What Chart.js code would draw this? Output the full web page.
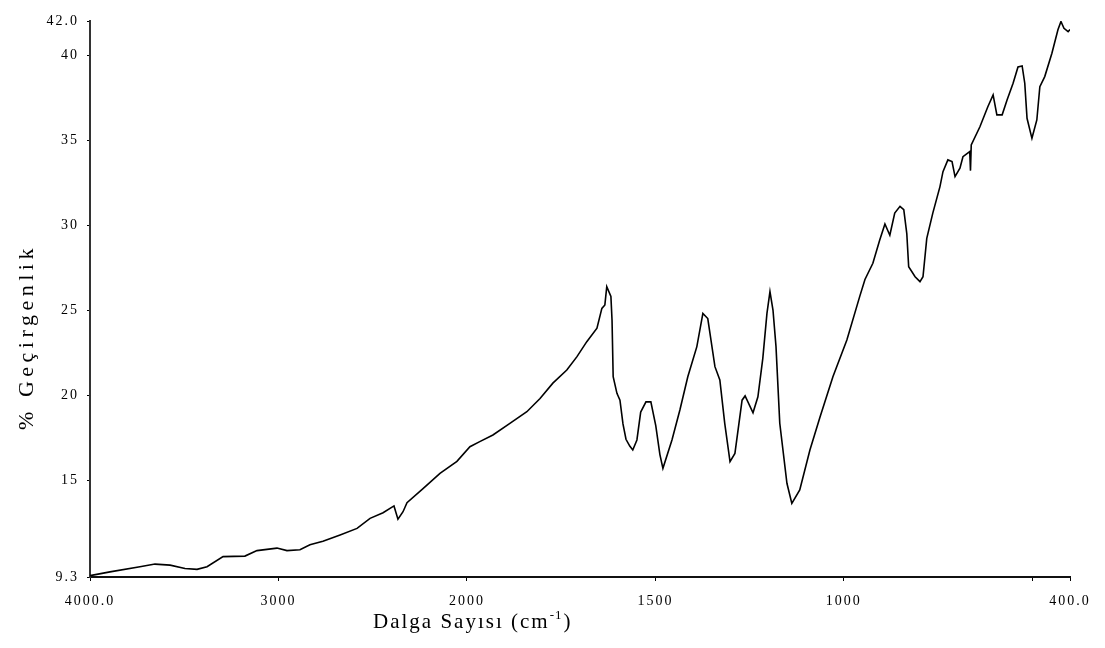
<!DOCTYPE html>
<html>
<head>
<meta charset="utf-8">
<script src="https://cdn.jsdelivr.net/npm/chart.js@4/dist/chart.umd.min.js"></script>
<style>
  body { margin: 0; background: #fff; }
</style>
</head>
<body>
<canvas id="irChart" width="1105" height="648"></canvas>
<script>
// IR spektrumu: dalga sayisi (cm-1) ve % gecirgenlik
const wavenumber = [
  4000, 3894, 3735, 3655, 3575, 3496, 3432, 3379, 3294, 3178,
  3114, 3008, 2955, 2886, 2833, 2764, 2673, 2583, 2514, 2445,
  2387, 2366, 2339, 2318, 2233, 2143, 2053, 1992, 1966, 1931,
  1886, 1841, 1806, 1772, 1735, 1708, 1682, 1655, 1642, 1634,
  1629, 1618, 1615, 1612, 1602, 1594, 1586, 1578, 1568, 1560,
  1549, 1539, 1525, 1512, 1499, 1488, 1480, 1456, 1435, 1414,
  1390, 1374, 1361, 1342, 1329, 1316, 1302, 1289, 1270, 1262,
  1241, 1228, 1215, 1204, 1196, 1188, 1180, 1170, 1151, 1138,
  1117, 1090, 1063, 1029, 992, 958, 944, 923, 905, 891,
  878, 865, 851, 841, 833, 828, 811, 798, 790, 780,
  764, 745, 737, 724, 713, 705, 692, 684, 666, 664,
  662, 639, 618, 604, 594, 580, 567, 551, 538, 527,
  520, 514, 501, 488, 480, 467, 448, 432, 424, 416,
  405, 400
];
const transmittance = [
  9.38, 9.6, 9.9, 10.06, 10.0, 9.8, 9.75, 9.9, 10.5, 10.53,
  10.85, 11.0, 10.85, 10.9, 11.2, 11.4, 11.77, 12.16, 12.75, 13.08,
  13.48, 12.7, 13.14, 13.67, 14.5, 15.4, 16.1, 16.96, 17.26, 17.65,
  18.34, 19.02, 19.8, 20.7, 21.47, 22.26, 23.14, 23.93, 25.1, 25.3,
  26.38, 25.8, 24.4, 21.08, 20.1, 19.7, 18.3, 17.4, 17.0, 16.77,
  17.36, 19.0, 19.6, 19.6, 18.2, 16.5, 15.69, 17.36, 19.12, 21.08,
  22.85, 24.8, 24.5, 21.67, 20.89, 18.34, 16.08, 16.57, 19.7, 19.95,
  18.96, 19.9, 22.16, 24.8, 26.08, 25.0, 22.85, 18.34, 14.81, 13.63,
  14.42, 16.77, 18.73, 21.08, 23.24, 25.79, 26.8, 27.75, 29.1, 30.06,
  29.4, 30.7, 31.1, 30.9, 29.5, 27.55, 26.96, 26.67, 26.96, 29.22,
  30.7, 32.26, 33.14, 33.83, 33.73, 32.85, 33.34, 34.02, 34.32, 33.2,
  34.71, 35.78, 36.96, 37.65, 36.48, 36.48, 37.36, 38.34, 39.3, 39.36,
  38.34, 36.28, 35.1, 36.18, 38.14, 38.73, 40.1, 41.48, 41.97, 41.57,
  41.37, 41.5
];

const xTicks = [4000, 3000, 2000, 1500, 1000, 500, 400];
const xTickLabels = ['4000.0', '3000', '2000', '1500', '1000', '', '400.0'];
const yTicks = [9.3, 15, 20, 25, 30, 35, 40, 42.0];
const yTickLabels = ['9.3', '15', '20', '25', '30', '35', '40', '42.0'];

const xTitle = 'Dalga Sayısı (cm';
const xTitleSup = '-1';
const yTitle = '% Geçirgenlik';

// eksen 2000 cm-1'de kirilir: altinda olcek iki kati
function toAxis(w) {
    return w >= 2000 ? 4000 - w : 2000 + (2000 - w) * 2;
}

const FONT = "'Liberation Serif', 'Times New Roman', serif";

const titlesPlugin = {
    id: 'titles',
    beforeDraw(chart) {
        chart.ctx.letterSpacing = '2px';
    },
    afterDraw(chart) {
        const ctx = chart.ctx;
        ctx.save();
        ctx.fillStyle = '#000';
        ctx.textBaseline = 'alphabetic';

        // x ekseni basligi
        ctx.letterSpacing = '2px';
        ctx.font = '21px ' + FONT;
        ctx.textAlign = 'left';
        let x = 373;
        const base = 628;
        ctx.fillText(xTitle, x, base);
        x += ctx.measureText(xTitle).width;
        ctx.font = '13px ' + FONT;
        ctx.letterSpacing = '1px';
        ctx.fillText(xTitleSup, x, base - 9);
        x += ctx.measureText(xTitleSup).width + 1;
        ctx.font = '21px ' + FONT;
        ctx.fillText(')', x, base);

        // y ekseni basligi
        ctx.translate(27, 337);
        ctx.rotate(-Math.PI / 2);
        ctx.font = '22px ' + FONT;
        ctx.letterSpacing = '4.5px';
        ctx.textAlign = 'center';
        ctx.textBaseline = 'middle';
        ctx.fillText(yTitle, 0, 0);
        ctx.restore();
    }
};

const ctx = document.getElementById('irChart').getContext('2d');
new Chart(ctx, {
    type: 'scatter',
    data: {
        datasets: [{
            data: wavenumber.map((w, i) => ({ x: toAxis(w), y: transmittance[i] })),
            showLine: true,
            borderColor: '#000',
            borderWidth: 1.6,
            pointRadius: 0,
            tension: 0
        }]
    },
    options: {
        responsive: false,
        animation: false,
        layout: { padding: { top: 21, right: 35, left: 0, bottom: 0 } },
        plugins: {
            legend: { display: false },
            tooltip: { enabled: false }
        },
        scales: {
            x: {
                type: 'linear',
                min: 0,
                max: toAxis(400),
                afterBuildTicks: (scale) => {
                    scale.ticks = xTicks.map(w => ({ value: toAxis(w) }));
                },
                afterFit: (scale) => { scale.height = 71; },
                ticks: {
                    autoSkip: false,
                    maxRotation: 0,
                    padding: 12,
                    color: '#000',
                    font: { family: FONT, size: 14 },
                    callback: (v, i) => xTickLabels[i]
                },
                grid: { drawOnChartArea: false, drawTicks: true, tickLength: 4, color: '#000' },
                border: { color: '#111', width: 2 }
            },
            y: {
                type: 'linear',
                min: 9.3,
                max: 42.0,
                afterBuildTicks: (scale) => {
                    scale.ticks = yTicks.map(v => ({ value: v }));
                },
                afterFit: (scale) => { scale.width = 90; },
                ticks: {
                    autoSkip: false,
                    padding: 8,
                    color: '#000',
                    font: { family: FONT, size: 14 },
                    callback: (v, i) => yTickLabels[i]
                },
                grid: { drawOnChartArea: false, drawTicks: true, tickLength: 3, color: '#000' },
                border: { color: '#333', width: 2 }
            }
        }
    },
    plugins: [titlesPlugin]
});
</script>
</body>
</html>
